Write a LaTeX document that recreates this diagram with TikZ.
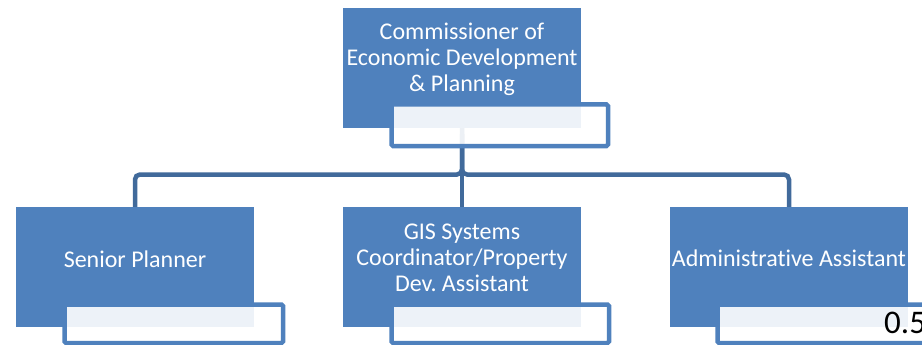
\documentclass[tikz,border=0pt]{standalone}
\usepackage{fontspec}
\setmainfont{Carlito}[Ligatures={NoCommon}]
\begin{document}
\begin{tikzpicture}[x=1pt,y=-1pt,
  boxfill/.style={fill={rgb,255:red,79;green,129;blue,189}, draw=none, inner sep=0pt,
    minimum width=238pt, minimum height=120pt},
  boxtext/.style={text=white, font=\fontsize{24}{26}\selectfont, align=center, inner sep=0pt},
  tagbox/.style={draw={rgb,255:red,79;green,129;blue,189}, line width=4.5pt, rounded corners=1.5pt,
    fill=white, fill opacity=0.9, draw opacity=1, inner sep=0pt, anchor=north west},
  link/.style={draw={rgb,255:red,65;green,106;blue,155}, line width=4.5pt, rounded corners=5pt}
]
\useasboundingbox (0,0) rectangle (922,345);
\clip (0,0) rectangle (922,345);
% coordinates for connector layout
\coordinate (topc) at (462,128);
\coordinate (leftc) at (135,207);
\coordinate (midc) at (462,207);
\coordinate (rightc) at (789,207);
% connectors
\draw[link, shorten <=6pt] (topc) -- (462,174.5) -| ([yshift=-6pt]leftc);
\draw[link] (topc) -- (462,174.5) -| ([yshift=-6pt]rightc);
\draw[link] (462,174.5) -- ([yshift=-6pt]midc);
% boxes
\node[boxfill] (top) at (462,68) {};
\node[boxfill] (left) at (135,267) {};
\node[boxfill] (mid) at (462,267) {};
\node[boxfill] (right) at (788.5,267) {};
% texts
\node[boxtext] (toptext) at (462,59) {Commissioner of\\Economic Development\\\& Planning};
\node[boxtext] (lefttext) at (135,259) {Senior Planner};
\node[boxtext] (midtext) at (462,258) {GIS Systems\\Coordinator/Property\\Dev.\ Assistant};
\node[boxtext] (righttext) at (789,258) {Administrative Assistant};
% tag boxes
\node[tagbox, minimum width=216.5pt, minimum height=41.5pt] (toptag) at (389.25,102.25) {};
\node[tagbox, minimum width=218.5pt, minimum height=38.5pt] (lefttag) at (62.25,302.25) {};
\node[tagbox, minimum width=217.5pt, minimum height=38.5pt] (midtag) at (389.25,302.25) {};
\node[tagbox, minimum width=218pt, minimum height=38.5pt] (righttag) at (715.25,302.25) {};
\node[anchor=base west, inner sep=0pt, font=\fontsize{33}{38}\selectfont, text=black] (val) at (884,333) {0.5};
\end{tikzpicture}
\end{document}
